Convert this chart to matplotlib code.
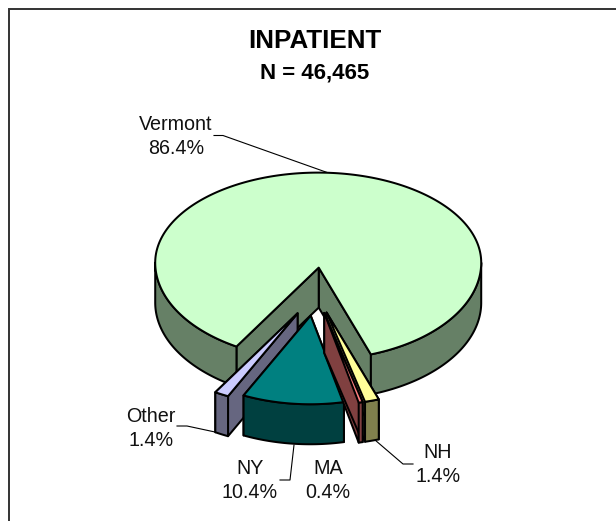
import numpy as np
import matplotlib
matplotlib.use("Agg")
import matplotlib.pyplot as plt
from matplotlib.patches import Polygon

plt.rcParams['font.family'] = ['Liberation Sans', 'DejaVu Sans']

# ---- data
categories = ["Vermont", "NH", "MA", "NY", "Other"]
shares = [86.4, 1.4, 0.4, 10.4, 1.4]
title_text = "INPATIENT"
subtitle_text = "N = 46,465"

# ---- styles
top_colors = {"Vermont": "#CCFFCC", "NH": "#FFFF99", "MA": "#FF8080", "NY": "#008080", "Other": "#CCCCFF"}
side_colors = {"Vermont": "#668066", "NH": "#80804D", "MA": "#804040", "NY": "#004040", "Other": "#666680"}
draw_order = ["Vermont", "Other", "NY", "NH", "MA"]
explode_x = {"Vermont": 1.0, "NH": 1.0, "MA": 1.0, "NY": 0.8, "Other": 0.85}
explode_y = {"Vermont": 1.0, "NH": 1.0, "MA": 1.0, "NY": 1.1, "Other": 1.12}
radius_scale = {"Vermont": 1.0, "NH": 1.0, "MA": 1.0, "NY": 0.965, "Other": 1.0}
label_pos = {"Vermont": (176, 125, 149), "NH": (438, 453, 477), "MA": (328, 468, 492),
             "NY": (250, 469, 493), "Other": (151, 416, 440)}
leaders = {"Vermont": [(214, 135.5), (223, 135.5), (330, 173.5)],
           "NH": [(375, 440), (403, 464), (413, 464)],
           "NY": [(280, 480), (290, 480), (294, 445)],
           "Other": [(177, 426), (187, 426), (215, 432)]}

# ---- pie geometry (pixel space)
CX, CY = 314.0, 285.5          # common centre before explosion
RX, RY_UP, RY_LOW = 163.0, 90.0, 97.0
EX, EY = 43.0, 23.0            # explosion reach
DEPTH = 40.0
APEX = (0.5, 5.0)
START = 329.9                  # angle of first slice, degrees from "down", decreasing clockwise
LW = 1.45
EDGE = "black"

fig = plt.figure(figsize=(6.16, 5.21), dpi=100)
ax = fig.add_axes([0, 0, 1, 1])
ax.set_xlim(0, 616)
ax.set_ylim(521, 0)
ax.axis("off")

# chart frame: only left and top sides are within the picture
ax.plot([8.5, 8.5, 616], [521, 9, 9], color="#333333", lw=1.4, solid_joinstyle="miter", zorder=1)


def arc(cx, cy, t1, t2, dy=0.0, s=1.0):
    n = max(2, int(abs(t2 - t1) * 2) + 1)
    t = np.radians(np.linspace(t1, t2, n))
    c = np.cos(t)
    y = cy + s * np.where(c >= 0, RY_LOW, RY_UP) * c + dy
    x = cx + s * RX * np.sin(t)
    return np.column_stack([x, y])


def poly(points, color, z):
    ax.add_patch(Polygon(points, closed=True, facecolor=color, edgecolor=EDGE,
                         linewidth=LW, joinstyle="round", zorder=z))


def front_ranges(t_low, t_high):
    """Parts of [t_low, t_high] where the rim faces the viewer (cos > 0)."""
    out = []
    for k in range(-1, 3):
        a, b = max(t_low, -90 + 360 * k), min(t_high, 90 + 360 * k)
        if a < b:
            out.append((a, b))
    return out


angles = {}
cum = 0.0
for name, v in zip(categories, shares):
    t_high = START - cum * 3.6
    t_low = t_high - v * 3.6
    angles[name] = (t_low, t_high)
    cum += v

z = 2
for name in draw_order:
    t_low, t_high = angles[name]
    mid = np.radians((t_low + t_high) / 2)
    cx = CX + explode_x[name] * EX * np.sin(mid)
    cy = CY + explode_y[name] * EY * np.cos(mid)
    s = radius_scale[name]
    apex = np.array([cx + APEX[0], cy + APEX[1]])
    rim_top = arc(cx, cy, t_low, t_high, s=s)
    shift = np.array([0, DEPTH])

    # cut faces
    for end in (rim_top[0], rim_top[-1]):
        poly([apex, end, end + shift, apex + shift], side_colors[name], z)
    z += 1
    # rim
    for a, b in front_ranges(t_low, t_high):
        up = arc(cx, cy, a, b, s=s)
        down = arc(cx, cy, a, b, DEPTH, s=s)
        poly(np.vstack([up, down[::-1]]), side_colors[name], z)
    z += 1
    # top face
    poly(np.vstack([apex, rim_top]), top_colors[name], z)
    z += 1

# ---- text
ax.text(315, 41.5, title_text, ha="center", va="center", fontsize=18.7, fontweight="bold", color="black", zorder=30)
ax.text(315, 72.5, subtitle_text, ha="center", va="center", fontsize=16, fontweight="bold", color="black", zorder=30)

for name, v in zip(categories, shares):
    x, y1, y2 = label_pos[name]
    ax.text(x, y1, name, ha="center", va="center", fontsize=14.2, color="#111111", zorder=30)
    ax.text(x, y2, f"{v:.1f}%", ha="center", va="center", fontsize=14.2, color="#111111", zorder=30)

for name, pts in leaders.items():
    xs, ys = zip(*pts)
    ax.plot(xs, ys, color="black", lw=0.8, zorder=1.5)

fig.savefig("out.png", dpi=100)
